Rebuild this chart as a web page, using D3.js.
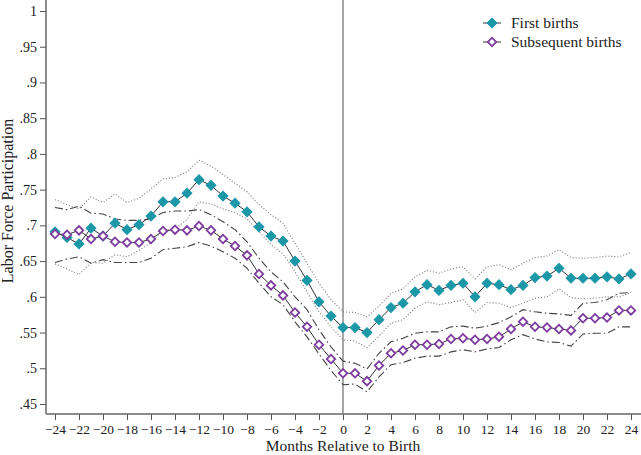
<!DOCTYPE html>
<html>
<head>
<meta charset="utf-8">
<script src="https://cdn.jsdelivr.net/npm/d3@7"></script>
<style>
  html, body { margin: 0; padding: 0; background: #fff; }
  svg { display: block; }
  text { font-family: "Liberation Serif", "Times New Roman", serif; fill: #222; }
</style>
</head>
<body>
<svg id="chart" width="641" height="455"></svg>
<script>
// ---------- DATA ----------
const months = d3.range(-24, 25);
const firstBirths = [0.691,0.683,0.674,0.696,0.685,0.703,0.694,0.701,0.713,0.733,0.733,0.745,0.764,0.756,0.741,0.731,0.719,0.698,0.685,0.678,0.650,0.623,0.593,0.573,0.557,0.557,0.550,0.568,0.585,0.591,0.607,0.617,0.609,0.616,0.619,0.600,0.619,0.617,0.610,0.616,0.627,0.629,0.640,0.626,0.626,0.626,0.628,0.625,0.632];
const firstUpper = [0.736,0.729,0.723,0.740,0.732,0.744,0.732,0.738,0.751,0.765,0.767,0.775,0.791,0.783,0.771,0.759,0.747,0.729,0.715,0.703,0.675,0.647,0.619,0.596,0.579,0.578,0.572,0.587,0.605,0.611,0.628,0.637,0.633,0.639,0.642,0.625,0.642,0.645,0.638,0.647,0.655,0.657,0.666,0.655,0.654,0.655,0.657,0.656,0.662];
const firstLower = [0.646,0.639,0.631,0.648,0.647,0.659,0.656,0.665,0.676,0.693,0.695,0.708,0.733,0.730,0.723,0.718,0.709,0.691,0.673,0.660,0.635,0.607,0.579,0.558,0.540,0.538,0.529,0.545,0.563,0.568,0.584,0.593,0.589,0.592,0.596,0.578,0.592,0.591,0.585,0.591,0.598,0.600,0.611,0.599,0.597,0.598,0.600,0.600,0.606];
const subsBirths = [0.688,0.687,0.693,0.681,0.685,0.677,0.676,0.676,0.681,0.692,0.694,0.693,0.699,0.693,0.681,0.671,0.658,0.632,0.616,0.602,0.578,0.558,0.533,0.513,0.493,0.493,0.482,0.504,0.521,0.525,0.533,0.533,0.534,0.541,0.542,0.540,0.541,0.544,0.555,0.565,0.558,0.557,0.555,0.553,0.570,0.570,0.571,0.581,0.581];
const subsUpper = [0.725,0.722,0.727,0.717,0.716,0.709,0.707,0.707,0.709,0.718,0.720,0.720,0.722,0.715,0.705,0.694,0.677,0.654,0.635,0.621,0.600,0.582,0.554,0.530,0.510,0.507,0.499,0.521,0.537,0.542,0.549,0.551,0.551,0.558,0.559,0.556,0.559,0.564,0.572,0.582,0.579,0.577,0.576,0.574,0.591,0.592,0.596,0.605,0.606];
const subsLower = [0.648,0.653,0.656,0.647,0.652,0.648,0.648,0.648,0.654,0.666,0.668,0.670,0.676,0.671,0.663,0.654,0.640,0.619,0.600,0.589,0.565,0.544,0.520,0.497,0.477,0.478,0.467,0.488,0.505,0.508,0.514,0.517,0.517,0.523,0.526,0.523,0.527,0.529,0.540,0.547,0.541,0.537,0.536,0.531,0.548,0.549,0.549,0.558,0.558];
const xTicks = d3.range(-24, 25, 2);
const yTicks = [0.45,0.5,0.55,0.6,0.65,0.7,0.75,0.8,0.85,0.9,0.95,1];
const seriesNames = ["First births", "Subsequent births"];
const teal = "#1b97a8", purple = "#7d3c9e";

// ---------- SCALES ----------
const svg = d3.select("#chart");
const x = d3.scaleLinear().domain([-24, 24]).range([55, 631]);
const y = d3.scaleLinear().domain([0.45, 1]).range([404, 11]);
const axisX0 = 46, axisY0 = 414;

// ---------- AXES ----------
const yAxis = svg.append("g").attr("transform", `translate(${axisX0},0)`)
  .call(d3.axisLeft(y).tickValues(yTicks).tickSize(6).tickPadding(3)
        .tickFormat(d => d === 1 ? "1" : d3.format(".2~f")(d).replace(/^0/, "")));
yAxis.select(".domain").remove();
yAxis.selectAll(".tick line").attr("stroke", "#555");
yAxis.selectAll(".tick text").attr("font-size", 14).attr("font-family", "Liberation Serif").attr("fill", "#222");
svg.append("line").attr("x1", axisX0).attr("x2", axisX0).attr("y1", 0).attr("y2", axisY0)
  .attr("stroke", "#666").attr("stroke-width", 1.5);

const xAxis = svg.append("g").attr("transform", `translate(0,${axisY0})`)
  .call(d3.axisBottom(x).tickValues(xTicks).tickSize(6).tickPadding(4).tickFormat(d3.format("d")));
xAxis.select(".domain").remove();
xAxis.selectAll(".tick line").attr("stroke", "#555");
xAxis.selectAll(".tick text").attr("font-size", 13.5).attr("font-family", "Liberation Serif").attr("fill", "#222");
svg.append("line").attr("x1", axisX0).attr("x2", 641).attr("y1", axisY0).attr("y2", axisY0)
  .attr("stroke", "#666").attr("stroke-width", 1.5);

// vertical line at birth
svg.append("line").attr("x1", x(0)).attr("x2", x(0)).attr("y1", 0).attr("y2", axisY0)
  .attr("stroke", "#8a8a8a").attr("stroke-width", 1.5);

// axis titles
svg.append("text").attr("x", x(0)).attr("y", 451).attr("text-anchor", "middle")
  .attr("font-size", 15.5).text("Months Relative to Birth");
svg.append("text").attr("transform", "translate(13,201) rotate(-90)").attr("text-anchor", "middle")
  .attr("font-size", 16).text("Labor Force Participation");

// ---------- LINES ----------
const line = d3.line().x((d, i) => x(months[i])).y(d => y(d));
function ci(vals, dash, color, w) {
  svg.append("path").datum(vals).attr("d", line).attr("fill", "none")
    .attr("stroke", color).attr("stroke-width", w).attr("stroke-dasharray", dash);
}
ci(firstUpper, "1,2", "#777", 1.1);
ci(firstLower, "1,2", "#777", 1.1);
ci(subsUpper, "8,3,1.5,3", "#444", 1.1);
ci(subsLower, "8,3,1.5,3", "#444", 1.1);

svg.append("path").datum(firstBirths).attr("d", line).attr("fill", "none").attr("stroke", "#333").attr("stroke-width", 1);
svg.append("path").datum(subsBirths).attr("d", line).attr("fill", "none").attr("stroke", "#333").attr("stroke-width", 1);

svg.append("g").selectAll("path").data(firstBirths).join("path")
  .attr("d", d3.symbol(d3.symbolSquare, 48)())
  .attr("transform", (d, i) => `translate(${x(months[i])},${y(d)}) rotate(45)`)
  .attr("fill", teal).attr("stroke", teal).attr("stroke-width", 1);
svg.append("g").selectAll("path").data(subsBirths).join("path")
  .attr("d", d3.symbol(d3.symbolSquare, 36)())
  .attr("transform", (d, i) => `translate(${x(months[i])},${y(d)}) rotate(45)`)
  .attr("fill", "#fff").attr("stroke", purple).attr("stroke-width", 1.8);

// ---------- LEGEND ----------
const lg = svg.append("g");
const legendStyles = [
  {fill: teal, stroke: teal, size: 48, sw: 1},
  {fill: "#fff", stroke: purple, size: 36, sw: 1.8}
];
seriesNames.forEach((name, i) => {
  const cy = 23 + i * 19;
  lg.append("line").attr("x1", 483).attr("x2", 501).attr("y1", cy).attr("y2", cy)
    .attr("stroke", "#333").attr("stroke-width", 1);
  lg.append("path").attr("d", d3.symbol(d3.symbolSquare, legendStyles[i].size)())
    .attr("transform", `translate(492,${cy}) rotate(45)`)
    .attr("fill", legendStyles[i].fill).attr("stroke", legendStyles[i].stroke).attr("stroke-width", legendStyles[i].sw);
  lg.append("text").attr("x", 511).attr("y", cy + 5).attr("font-size", 15.5).text(name);
});
</script>
</body>
</html>
